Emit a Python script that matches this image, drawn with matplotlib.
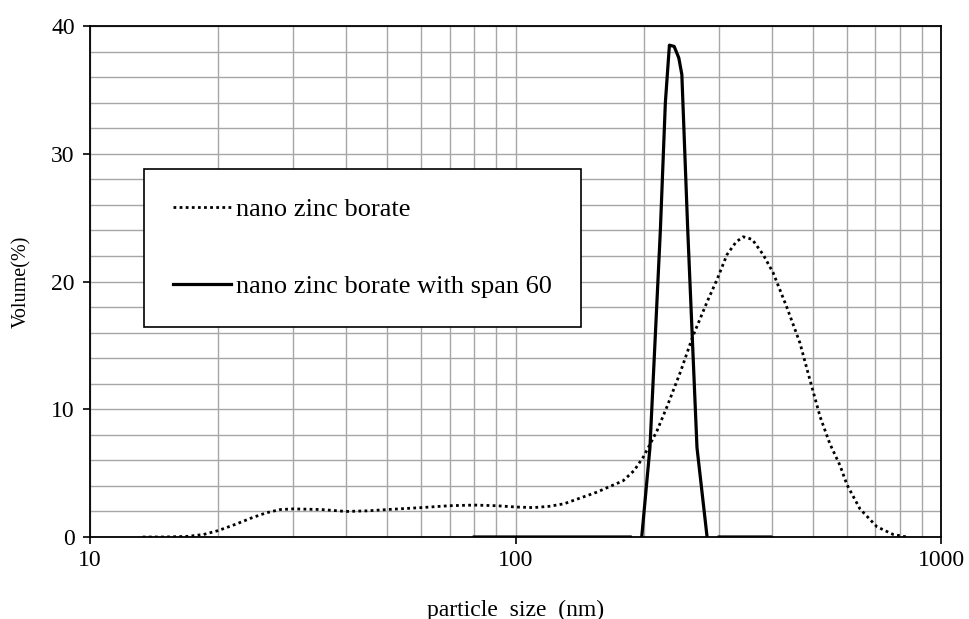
import numpy as np
import matplotlib
matplotlib.use("Agg")
import matplotlib.pyplot as plt
from matplotlib.ticker import MultipleLocator, LogLocator, NullFormatter, FixedLocator

# ---- data ----
size_plain = [13.3, 15, 17, 18.5, 20, 22, 24, 26, 28, 30, 35, 40, 45, 50, 60, 70, 80,
              90, 100, 110, 120, 130, 155, 179, 190, 200, 215, 227, 244, 261, 282,
              298, 314, 330, 343, 360, 382, 403, 434, 466, 492, 520, 548, 579, 601,
              645, 707, 772, 831]
vol_plain = [0, 0, 0.05, 0.2, 0.5, 1.0, 1.5, 1.9, 2.15, 2.2, 2.15, 2.0, 2.05, 2.15,
             2.3, 2.45, 2.5, 2.45, 2.35, 2.3, 2.4, 2.6, 3.5, 4.4, 5.2, 6.3, 8.3, 10.2,
             12.9, 15.7, 18.4, 20.2, 22.1, 23.1, 23.5, 23.3, 22.1, 20.7, 18.0, 15.2,
             12.3, 9.4, 7.3, 5.6, 4.1, 2.2, 0.8, 0.2, 0]

size_span = [80, 186, np.nan, 198, 207, 219, 225, 230, 236, 242, 246, 254, 267, 282,
             np.nan, 301, 398]
vol_span = [0, 0, np.nan, 0, 7, 24, 34, 38.5, 38.4, 37.5, 36.2, 24, 7, 0,
            np.nan, 0, 0]

labels = ["nano zinc borate", "nano zinc borate with span 60"]

plt.rcParams['font.family'] = ['Liberation Serif', 'DejaVu Serif']

fig = plt.figure(figsize=(9.69, 6.19), dpi=100)
ax = fig.add_axes([90/969, 1-537/619, (941-90)/969, (537-26)/619])

ax.plot(size_plain, vol_plain, color='black', lw=2.0, linestyle=(0, (1, 1.2)),
        dash_capstyle='butt', label=labels[0], zorder=3)
ax.plot(size_span, vol_span, color='black', lw=2.3, label=labels[1], zorder=4)

ax.set_xscale('log')
ax.set_xlim(10, 1000)
ax.set_ylim(0, 40)
ax.xaxis.set_major_locator(FixedLocator([10, 100, 1000]))
ax.xaxis.set_minor_locator(LogLocator(base=10, subs=np.arange(2, 10)))
ax.xaxis.set_minor_formatter(NullFormatter())
ax.set_xticklabels(['10', '100', '1000'])
ax.yaxis.set_major_locator(MultipleLocator(10))
ax.yaxis.set_minor_locator(MultipleLocator(2))

ax.grid(which='both', color='#a6a6a6', lw=1.0, zorder=0)
ax.set_axisbelow(True)
ax.tick_params(which='major', direction='out', length=5, width=1.2, labelsize=17,
               pad=6, colors='black')
ax.tick_params(which='minor', length=0)
ax.tick_params(axis='x', pad=4)
for s in ax.spines.values():
    s.set_color('black')
    s.set_linewidth(1.3)

ax.set_xlabel('particle  size  (nm)', fontsize=17, labelpad=21)
ax.set_ylabel('Volume(%)', fontsize=14.5, labelpad=14)

leg = ax.legend(loc='upper left', bbox_to_anchor=((144-90)/851, (537-169)/511),
                fontsize=19, frameon=True, fancybox=False, edgecolor='black',
                framealpha=1, borderpad=1.1, labelspacing=2.0, handlelength=2.2,
                handletextpad=0.2, borderaxespad=0)
leg.get_frame().set_linewidth(1.2)

fig.savefig('out.png', dpi=100)
